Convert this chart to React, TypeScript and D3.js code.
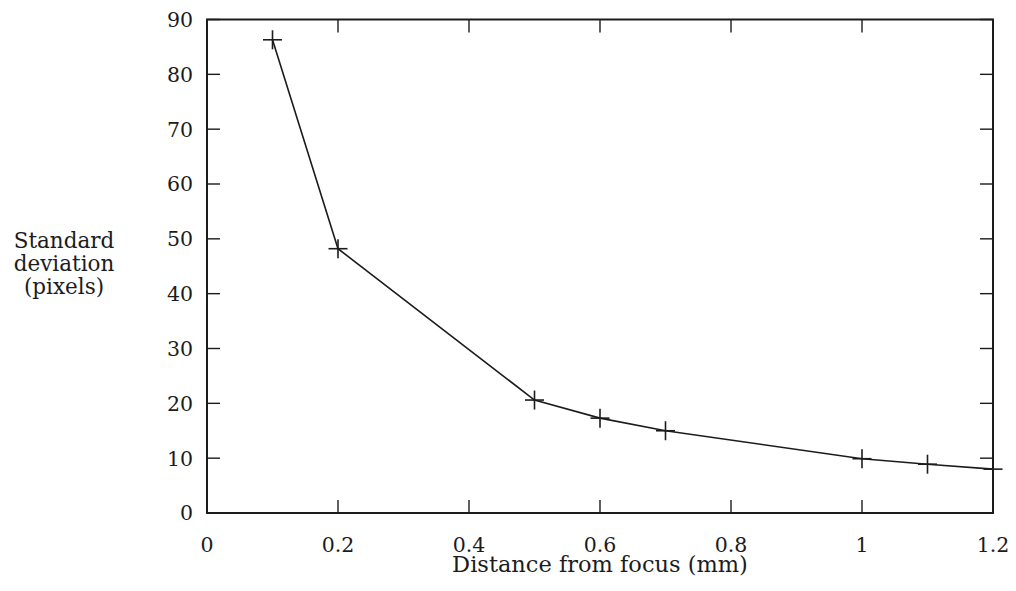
import React, { useEffect, useRef } from 'react';
import * as d3 from 'd3';

const distances = [0.1, 0.2, 0.5, 0.6, 0.7, 1.0, 1.1, 1.2];
const stdDevs = [86.3, 48.2, 20.6, 17.3, 15.0, 9.9, 8.9, 8.0];
const xTicks = [0, 0.2, 0.4, 0.6, 0.8, 1, 1.2];
const yTicks = [0, 10, 20, 30, 40, 50, 60, 70, 80, 90];
const yLabelLines = ['Standard', 'deviation', '(pixels)'];
const xLabel = 'Distance from focus (mm)';

const WIDTH = 1016;
const HEIGHT = 591;
const FONT = 'DejaVu Serif, Liberation Serif, serif';

const App = () => {
  const svgRef = useRef<SVGSVGElement>(null);

  useEffect(() => {
    const svg = d3.select(svgRef.current);
    svg.selectAll('*').remove();

    const left = 207;
    const right = 993;
    const top = 19.5;
    const bottom = 513;

    const x = d3.scaleLinear().domain([0, 1.2]).range([left, right]);
    const y = d3.scaleLinear().domain([0, 90]).range([bottom, top]);
    const ink = '#1c1c1c';
    const tickLen = 13;
    const fmt = (d: number) => String(+d.toFixed(1));

    svg.append('rect').attr('width', WIDTH).attr('height', HEIGHT).attr('fill', '#fff');

    // inward ticks on all four sides
    const g = svg.append('g').attr('stroke', ink).attr('stroke-width', 1.4);
    xTicks.forEach((t) => {
      g.append('line').attr('x1', x(t)).attr('x2', x(t)).attr('y1', bottom).attr('y2', bottom - tickLen);
      g.append('line').attr('x1', x(t)).attr('x2', x(t)).attr('y1', top).attr('y2', top + tickLen);
    });
    yTicks.forEach((t) => {
      g.append('line').attr('x1', left).attr('x2', left + tickLen).attr('y1', y(t)).attr('y2', y(t));
      g.append('line').attr('x1', right).attr('x2', right - tickLen).attr('y1', y(t)).attr('y2', y(t));
    });

    svg
      .append('rect')
      .attr('x', left)
      .attr('y', top)
      .attr('width', right - left)
      .attr('height', bottom - top)
      .attr('fill', 'none')
      .attr('stroke', ink)
      .attr('stroke-width', 2);

    // tick labels
    svg
      .append('g')
      .selectAll('text')
      .data(xTicks)
      .enter()
      .append('text')
      .attr('x', (d) => x(d))
      .attr('y', bottom + 39)
      .attr('text-anchor', 'middle')
      .attr('font-family', FONT)
      .attr('font-size', 20.5)
      .attr('fill', ink)
      .text(fmt);

    svg
      .append('g')
      .selectAll('text')
      .data(yTicks)
      .enter()
      .append('text')
      .attr('x', 193)
      .attr('y', (d) => y(d))
      .attr('dy', '0.36em')
      .attr('text-anchor', 'end')
      .attr('font-family', FONT)
      .attr('font-size', 20.5)
      .attr('fill', ink)
      .text((d) => String(d));

    // axis titles
    svg
      .append('text')
      .attr('x', 600)
      .attr('y', 572)
      .attr('text-anchor', 'middle')
      .attr('font-family', FONT)
      .attr('font-size', 22.5)
      .attr('fill', ink)
      .text(xLabel);

    svg
      .append('g')
      .selectAll('text')
      .data(yLabelLines)
      .enter()
      .append('text')
      .attr('x', 64)
      .attr('y', (_, i) => 248 + i * 23)
      .attr('text-anchor', 'middle')
      .attr('font-family', FONT)
      .attr('font-size', 21.5)
      .attr('fill', ink)
      .text((d) => d);

    // data line and + markers
    const pts = distances.map((d, i) => [d, stdDevs[i]] as [number, number]);
    const line = d3
      .line<[number, number]>()
      .x((d) => x(d[0]))
      .y((d) => y(d[1]));

    svg
      .append('path')
      .attr('d', line(pts))
      .attr('fill', 'none')
      .attr('stroke', ink)
      .attr('stroke-width', 1.6);

    const arm = 9.5;
    const marks = svg.append('g').attr('stroke', ink).attr('stroke-width', 1.6);
    pts.forEach(([dx, dy]) => {
      const cx = x(dx);
      const cy = y(dy);
      marks.append('line').attr('x1', cx - arm).attr('x2', cx + arm).attr('y1', cy).attr('y2', cy);
      marks.append('line').attr('x1', cx).attr('x2', cx).attr('y1', cy - arm).attr('y2', cy + arm);
    });
  }, []);

  return (
    <svg
      ref={svgRef}
      width={WIDTH}
      height={HEIGHT}
      style={{ position: 'absolute', left: 0, top: 0, display: 'block' }}
    />
  );
};

export default App;
